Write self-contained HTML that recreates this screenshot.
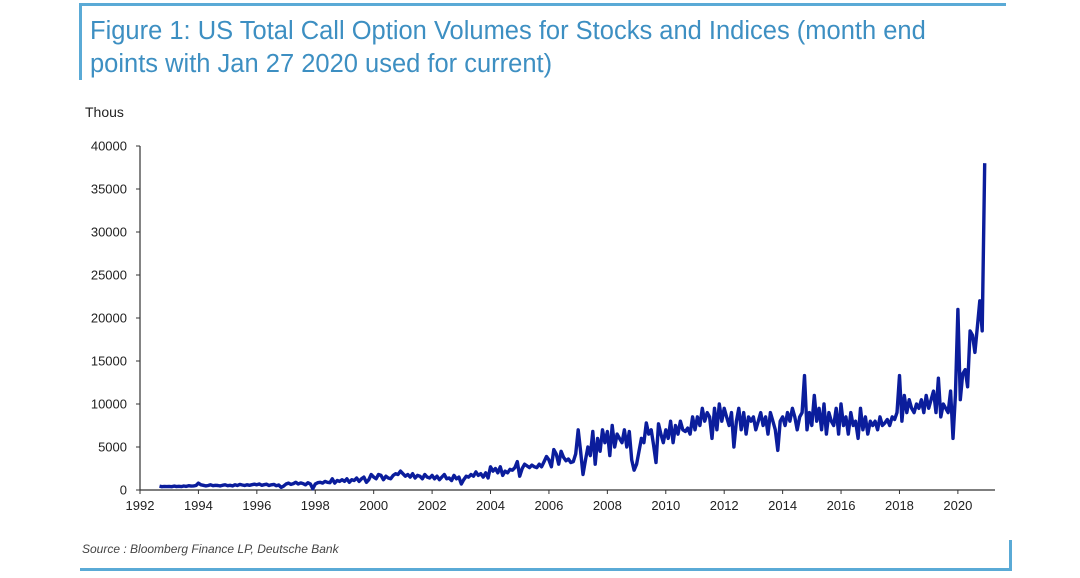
<!DOCTYPE html>
<html><head><meta charset="utf-8"><style>
body{margin:0;width:1080px;height:573px;background:#fff;overflow:hidden;font-family:"Liberation Sans",sans-serif}
</style></head><body>
<svg width="1080" height="573">
<line x1="80" y1="4.5" x2="1006" y2="4.5" stroke="#5aaad6" stroke-width="3"/>
<line x1="80.5" y1="3" x2="80.5" y2="80" stroke="#5aaad6" stroke-width="3"/>
<line x1="80" y1="569.5" x2="1011" y2="569.5" stroke="#5aaad6" stroke-width="3"/>
<line x1="1010.5" y1="540" x2="1010.5" y2="571" stroke="#5aaad6" stroke-width="3"/>
<text x="90" y="39" font-size="25.5" fill="#3d8fc2">Figure 1: US Total Call Option Volumes for Stocks and Indices (month end</text>
<text x="90" y="72" font-size="25.5" fill="#3d8fc2">points with Jan 27 2020 used for current)</text>
<text x="85" y="117" font-size="14" fill="#222">Thous</text>
<text x="82" y="553" font-size="12" font-style="italic" fill="#444">Source : Bloomberg Finance LP, Deutsche Bank</text>
<g id="axes"></g>
<path id="series" fill="none" stroke="#0b1d9c" stroke-width="3.4" stroke-linejoin="round"/>
</svg>
<script>
const yTicks=[0,5000,10000,15000,20000,25000,30000,35000,40000];
const xTicks=[1992,1994,1996,1998,2000,2002,2004,2006,2008,2010,2012,2014,2016,2018,2020];
const startYear=1992+8/12;
const volumes=[450,380,420,400,
420,380,450,400,430,390,460,420,500,450,480,520,
800,600,550,480,520,600,500,550,520,480,560,600,
500,550,480,600,520,650,580,520,600,550,620,680,
600,700,550,620,680,520,600,650,500,580,300,450,
700,800,650,750,900,700,820,750,600,850,700,150,
700,850,900,800,1000,900,850,1300,800,1100,1000,1200,
1000,1300,900,1200,1100,1400,1000,1300,1500,900,1200,1800,
1500,1300,1800,1700,1200,1600,1400,1300,1700,1900,1800,2200,
1900,1600,1800,1500,1900,1400,1700,1600,1300,1800,1500,1400,
1700,1300,1600,1200,1500,1800,1300,1400,1100,1700,1300,1500,
700,1200,1600,1500,1800,1600,2100,1700,1900,1500,2000,1400,
2700,2200,2500,2000,2700,1700,2200,2000,2400,2300,2600,3300,
1600,2500,3000,2800,2600,2900,2700,2600,3000,2700,3300,3900,
3500,2700,4700,4200,3000,4500,3800,3400,3600,3200,3300,4200,
7000,4500,1800,3500,5000,4000,6800,3000,6000,4500,7000,5500,
6800,4000,7500,5000,6500,6000,5500,7000,5000,6800,3500,2300,
3000,4500,6000,5500,7800,6500,7000,5200,3200,7700,6500,5500,
7000,6000,8000,5500,7500,6500,8000,7000,6800,7200,6500,8500,
7000,8500,7500,9500,8000,9000,8500,6000,9500,7000,10000,8000,
9500,8500,7500,9000,5000,8000,9500,7000,9000,6500,8500,8000,
8500,7000,8000,9000,7500,8500,6500,9000,8000,7000,4600,8000,
8500,7500,9000,8000,9500,8500,7000,8500,9000,13300,7000,9000,
7500,11000,8000,9500,7000,10000,6500,9000,8000,7500,9500,6500,
10000,7500,8500,6500,9000,7500,8000,6000,9500,7000,8500,6500,
8000,7500,8000,7000,8500,7500,7800,8200,7500,8500,8200,9000,
13300,8000,11000,9000,10500,9500,9000,10000,9500,10500,9000,11000,
9500,10500,11500,9000,13000,8500,10000,9500,9000,11500,6000,11000,
21000,10500,13500,14000,12000,18500,18000,16000,19000,22000,18500,
38000];
const X0=140,PX_PER_YEAR=29.21,Y0=490,PX_PER_UNIT=344/40000;
function xs(t){return X0+(t-1992)*PX_PER_YEAR;}
function ys(v){return Y0-v*PX_PER_UNIT;}
const NS="http://www.w3.org/2000/svg";
const g=document.getElementById('axes');
function mk(tag,attrs,txt){const e=document.createElementNS(NS,tag);for(const k in attrs)e.setAttribute(k,attrs[k]);if(txt!==undefined)e.textContent=txt;g.appendChild(e);return e;}
let e=mk('line',{x1:X0,y1:ys(40000),x2:X0,y2:Y0,stroke:'#333','stroke-width':1.2});


e=mk('line',{x1:X0,y1:Y0,x2:995,y2:Y0,stroke:'#333','stroke-width':1.2});


yTicks.forEach(v=>{
  const t=mk('line',{x1:X0-4,y1:ys(v),x2:X0,y2:ys(v),stroke:'#333'});
  
  
  const l=mk('text',{x:X0-13,y:ys(v)+4.5,'font-size':13,fill:'#222','text-anchor':'end'},String(v));
  
  
});
xTicks.forEach(v=>{
  const t=mk('line',{x1:xs(v),y1:Y0,x2:xs(v),y2:Y0+4,stroke:'#333'});
  
  
  const l=mk('text',{x:xs(v),y:Y0+20,'font-size':13,fill:'#222','text-anchor':'middle'},String(v));
  
  
});
let d='';
volumes.forEach((v,i)=>{const t=startYear+i/12;d+=(i?'L':'M')+xs(t).toFixed(1)+' '+ys(v).toFixed(1);});
document.getElementById('series').setAttribute('d',d);
</script>
</body></html>
